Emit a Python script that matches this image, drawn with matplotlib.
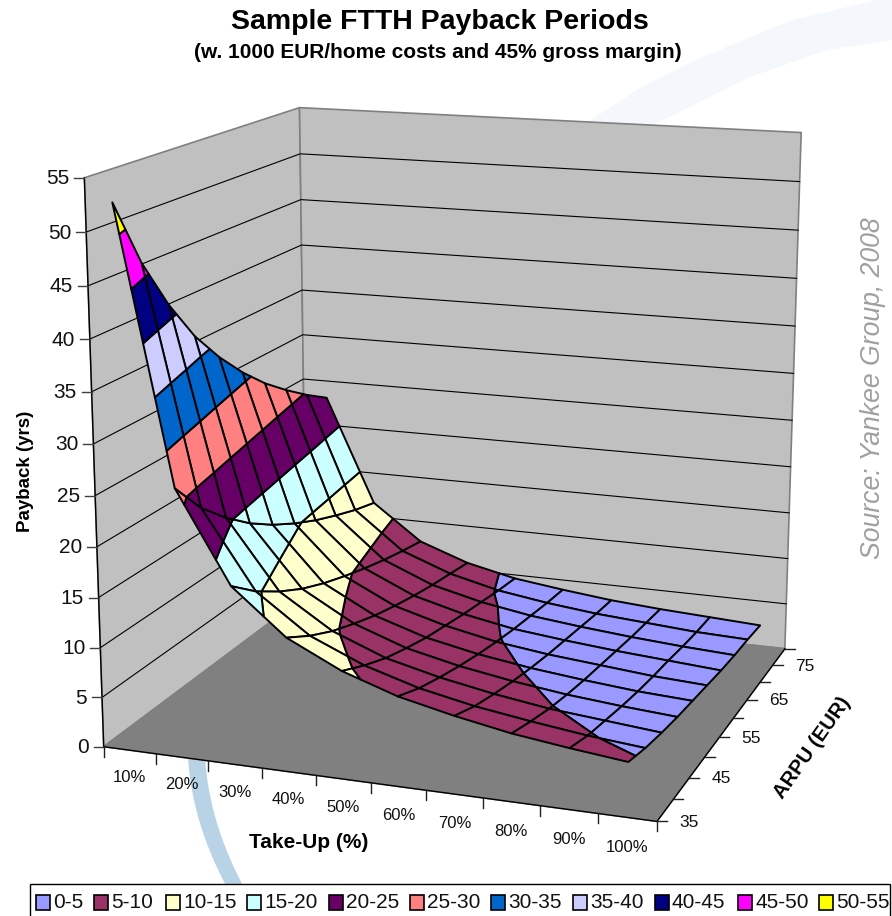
import numpy as np
import matplotlib
matplotlib.use('Agg')
import matplotlib.pyplot as plt
from matplotlib.collections import PolyCollection
from matplotlib.patches import Polygon, Rectangle

plt.rcParams['font.family'] = ['Liberation Sans', 'DejaVu Sans']

take_up = [10, 20, 30, 40, 50, 60, 70, 80, 90, 100]
arpu = [35, 40, 45, 50, 55, 60, 65, 70, 75, 80]
# payback in years, one row per ARPU, one column per take-up
payback = np.array([
    [52.9, 26.5, 17.6, 13.2, 10.6, 8.8, 7.6, 6.6, 5.9, 5.3],
    [46.3, 23.1, 15.4, 11.6, 9.3, 7.7, 6.6, 5.8, 5.1, 4.6],
    [41.2, 20.6, 13.7, 10.3, 8.2, 6.9, 5.9, 5.1, 4.6, 4.1],
    [37.0, 18.5, 12.3, 9.3, 7.4, 6.2, 5.3, 4.6, 4.1, 3.7],
    [33.7, 16.8, 11.2, 8.4, 6.7, 5.6, 4.8, 4.2, 3.7, 3.4],
    [30.9, 15.4, 10.3, 7.7, 6.2, 5.1, 4.4, 3.9, 3.4, 3.1],
    [28.5, 14.2, 9.5, 7.1, 5.7, 4.7, 4.1, 3.6, 3.2, 2.8],
    [26.5, 13.2, 8.8, 6.6, 5.3, 4.4, 3.8, 3.3, 2.9, 2.6],
    [24.7, 12.3, 8.2, 6.2, 4.9, 4.1, 3.5, 3.1, 2.7, 2.5],
    [23.1, 11.6, 7.7, 5.8, 4.6, 3.9, 3.3, 2.9, 2.6, 2.3],
])
z_ticks = [0, 5, 10, 15, 20, 25, 30, 35, 40, 45, 50, 55]
band_labels = ['0-5', '5-10', '10-15', '15-20', '20-25', '25-30', '30-35', '35-40', '40-45', '45-50', '50-55']
band_colors = ['#9999FF', '#993366', '#FFFFCC', '#CCFFFF', '#660066', '#FF8080',
               '#0066CC', '#CCCCFF', '#000080', '#FF00FF', '#FFFF00']
Z_MAX = 55.0

# camera: box corners (unit cube) -> pixel position in the picture
box = np.array([[0, 0, 0], [0, 0, 1], [0, 1, 1], [0, 1, 0], [1, 1, 1], [1, 1, 0], [1, 0, 0]], float)
pix = np.array([[104, 745], [84, 178], [300, 107], [306, 597], [801, 133], [785, 647], [657, 823]], float)
A, b = [], []
for (X, Y, Z), (u, v) in zip(box, pix):
    A.append([X, Y, Z, 1, 0, 0, 0, 0, -u*X, -u*Y, -u*Z])
    A.append([0, 0, 0, 0, X, Y, Z, 1, -v*X, -v*Y, -v*Z])
    b += [u, v]
p = np.linalg.lstsq(np.array(A), np.array(b), rcond=None)[0]
P = np.append(p, 1.0).reshape(3, 4)


def project(pts):
    pts = np.atleast_2d(pts)
    h = P @ np.c_[pts, np.ones(len(pts))].T
    return (h[:2] / h[2]).T


def depth(pts):
    pts = np.atleast_2d(pts)
    return (P @ np.c_[pts, np.ones(len(pts))].T)[2]


def clip(poly, level, keep_above):
    # cut a polygon (x, y, payback) at one payback level
    out = []
    for i in range(len(poly)):
        a, c = poly[i], poly[(i + 1) % len(poly)]
        ina = a[2] >= level if keep_above else a[2] <= level
        inc = c[2] >= level if keep_above else c[2] <= level
        if ina:
            out.append(a)
        if ina != inc:
            t = (level - a[2]) / (c[2] - a[2])
            out.append(a + t * (c - a))
    return out


fig = plt.figure(figsize=(8.92, 9.16), dpi=100, facecolor='white')
ax = fig.add_axes([0, 0, 1, 1])
ax.set_xlim(0, 892)
ax.set_ylim(916, 0)
ax.axis('off')

# swooshes behind the chart
sy = np.linspace(740, 886, 30)
sl = 187 + 39 * ((sy - 740) / 146) ** 2
ax.fill_betweenx(sy, sl, sl + 17, color='#B8D2E6', lw=0, zorder=0)
ax.add_patch(Polygon([(588, 122), (640, 88), (700, 58), (793, 20), (877, 0), (892, 0),
                      (892, 40), (827, 50), (747, 78), (653, 125)],
                     fc='#F4F7FB', ec='none', zorder=0))

# walls and floor
for corners, col in [([(0, 0, 0), (0, 1, 0), (0, 1, 1), (0, 0, 1)], '#C0C0C0'),
                     ([(0, 1, 0), (1, 1, 0), (1, 1, 1), (0, 1, 1)], '#C0C0C0'),
                     ([(0, 0, 0), (1, 0, 0), (1, 1, 0), (0, 1, 0)], '#808080')]:
    ax.add_patch(Polygon(project(corners), fc=col, ec='#808080', lw=1.2, zorder=1))
for z in z_ticks[1:-1]:
    line = project([(0, 0, z / Z_MAX), (0, 1, z / Z_MAX), (1, 1, z / Z_MAX)])
    ax.plot(line[:, 0], line[:, 1], color='black', lw=0.8, zorder=2)

# axis lines, ticks, tick labels
line = project([(0, 0, 1), (0, 0, 0), (1, 0, 0), (1, 1, 0)])
ax.plot(line[:, 0], line[:, 1], color='black', lw=1.0, zorder=3)
for z in z_ticks:
    u, v = project((0, 0, z / Z_MAX))[0]
    ax.plot([u - 10, u], [v, v], color='#404040', lw=1.0, zorder=3)
    ax.text(u - 15, v + 1, str(z), ha='right', va='center', fontsize=15, color='#111111')
for i in range(len(take_up) + 1):
    u, v = project((i / len(take_up), 0, 0))[0]
    ax.plot([u, u], [v, v + 10], color='#202020', lw=1.0, zorder=3)
for i, t in enumerate(take_up):
    u, v = project(((i + 0.5) / len(take_up), 0, 0))[0]
    ax.text(u, v + 27 + 3 * i / 9, f'{t}%', ha='center', va='center', fontsize=12, color='#111111')
for i, a in enumerate(arpu):
    u, v = project((1, i / (len(arpu) - 1), 0))[0]
    ax.plot([u, u + 10], [v, v], color='#202020', lw=1.0, zorder=3)
    if i % 2 == 0 and i < len(arpu) - 1:
        ax.text(u + 22, v + 1, str(a), ha='left', va='center', fontsize=12.5, color='#111111')

# surface: every grid cell is cut into payback bands, painted back to front
nx, ny = len(take_up), len(arpu)
cells = []
for j in range(ny - 1):
    for i in range(nx - 1):
        corners = [(i, j), (i + 1, j), (i + 1, j + 1), (i, j + 1)]
        poly = [np.array([(ci + 0.5) / nx, cj / (ny - 1), payback[cj, ci] / Z_MAX]) for ci, cj in corners]
        cells.append((depth(np.array(poly)).mean(), poly))
cells.sort(key=lambda c: -c[0])

verts, faces = [], []
for _, poly in cells:
    for k, col in enumerate(band_colors):
        lo, hi = k * 5 / Z_MAX, (k + 1) * 5 / Z_MAX
        part = clip(poly, lo, True)
        if part:
            part = clip(part, hi, False)
        if len(part) >= 3:
            verts.append(project(np.array(part)))
            faces.append(col)
ax.add_collection(PolyCollection(verts, facecolors=faces, edgecolors='black', linewidths=1.4,
                                 joinstyle='round', zorder=4))

# titles
ax.text(440, 22, 'Sample FTTH Payback Periods', ha='center', va='center', fontsize=20.5, fontweight='bold')
ax.text(438, 53, '(w. 1000 EUR/home costs and 45% gross margin)', ha='center', va='center', fontsize=15, fontweight='bold')
ax.text(25, 471, 'Payback (yrs)', rotation=90, ha='center', va='center', fontsize=13.5, fontweight='bold')
ax.text(309, 842, 'Take-Up (%)', ha='center', va='center', fontsize=15, fontweight='bold')
ax.text(812, 748, 'ARPU (EUR)', rotation=55, ha='center', va='center', fontsize=14.5, fontweight='bold')
ax.text(873, 388, 'Source: Yankee Group, 2008', rotation=90, ha='center', va='center', fontsize=19.2,
        fontstyle='italic', color='#A0A0A0')

# legend
ax.add_patch(Rectangle((30, 884), 860, 40, fc='white', ec='black', lw=1.0, zorder=5))
leg_x = [36, 94, 166, 247, 329, 410, 491, 573, 655, 738, 819]
for x0, lab, col in zip(leg_x, band_labels, band_colors):
    ax.add_patch(Rectangle((x0, 895), 14, 15, fc=col, ec='black', lw=1.2, zorder=6))
    ax.text(x0 + 17, 902, lab, ha='left', va='center', fontsize=15, color='#111111', zorder=6)

fig.savefig('out.png', dpi=100)
